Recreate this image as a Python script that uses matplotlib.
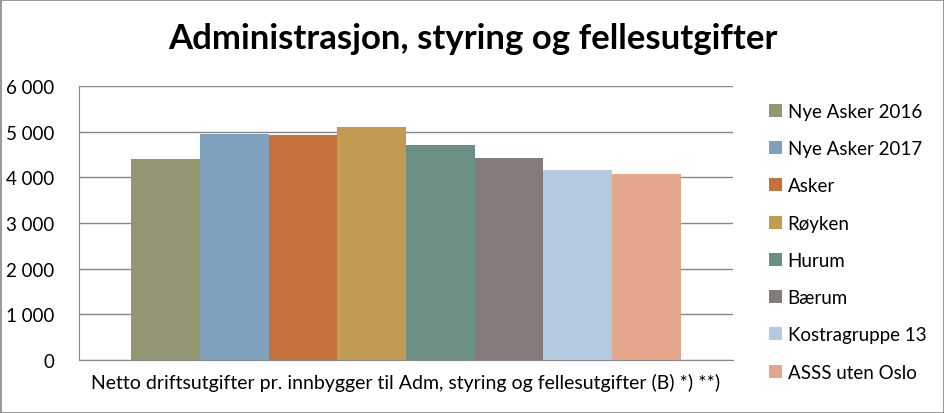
import matplotlib
matplotlib.use("Agg")
import matplotlib.pyplot as plt
import numpy as np

plt.rcParams['font.family'] = ['Lato', 'DejaVu Sans']

series = ["Nye Asker 2016", "Nye Asker 2017", "Asker", "Røyken", "Hurum",
          "Bærum", "Kostragruppe 13", "ASSS uten Oslo"]
values = [4400, 4945, 4925, 5100, 4705, 4420, 4160, 4065]
colors = ["#939671", "#7FA1BD", "#C5713E", "#C19B52", "#6A9086",
          "#857B7A", "#B4CAE0", "#E4A78C"]
category = "Netto driftsutgifter pr. innbygger til Adm, styring og fellesutgifter (B) *) **)"
yticks = [0, 1000, 2000, 3000, 4000, 5000, 6000]
ylabels = ["0", "1 000", "2 000", "3 000", "4 000", "5 000", "6 000"]

fig = plt.figure(figsize=(9.45, 4.14), dpi=100)
ax = fig.add_axes([79/945, 1-361/414, 654/945, 274/414])

n = len(series)
group = 0.84
w = group / n
for i, (s, v, c) in enumerate(zip(series, values, colors)):
    x = -group/2 + w*(i+0.5)
    ax.bar(x, v, width=w, color=c, label=s, zorder=3)

ax.set_xlim(-0.5, 0.5)
ax.set_ylim(0, 6000)
ax.set_yticks(yticks)
ax.set_yticklabels(ylabels, fontsize=13.5)
ax.set_xticks([])
ax.yaxis.grid(True, color="#868686", linewidth=1)
ax.tick_params(axis='y', length=0, pad=18)
for sp in ["top", "right"]:
    ax.spines[sp].set_visible(False)
for sp in ["left", "bottom"]:
    ax.spines[sp].set_color("#868686")
ax.set_xlabel(category, fontsize=14, labelpad=9)

fig.suptitle("Administrasjon, styring og fellesutgifter", fontsize=25,
             fontweight="bold", y=0.945)

leg = ax.legend(loc="upper left", bbox_to_anchor=(673/654, 1.0), frameon=False,
                fontsize=13.5, handlelength=0.7, handleheight=0.7,
                handletextpad=0.3, labelspacing=1.08)

fig.add_artist(plt.Rectangle((0.001, 0.001), 0.998, 0.997, transform=fig.transFigure,
                             fill=False, edgecolor="#868686", linewidth=1.2))

fig.savefig("out.png", dpi=100)
